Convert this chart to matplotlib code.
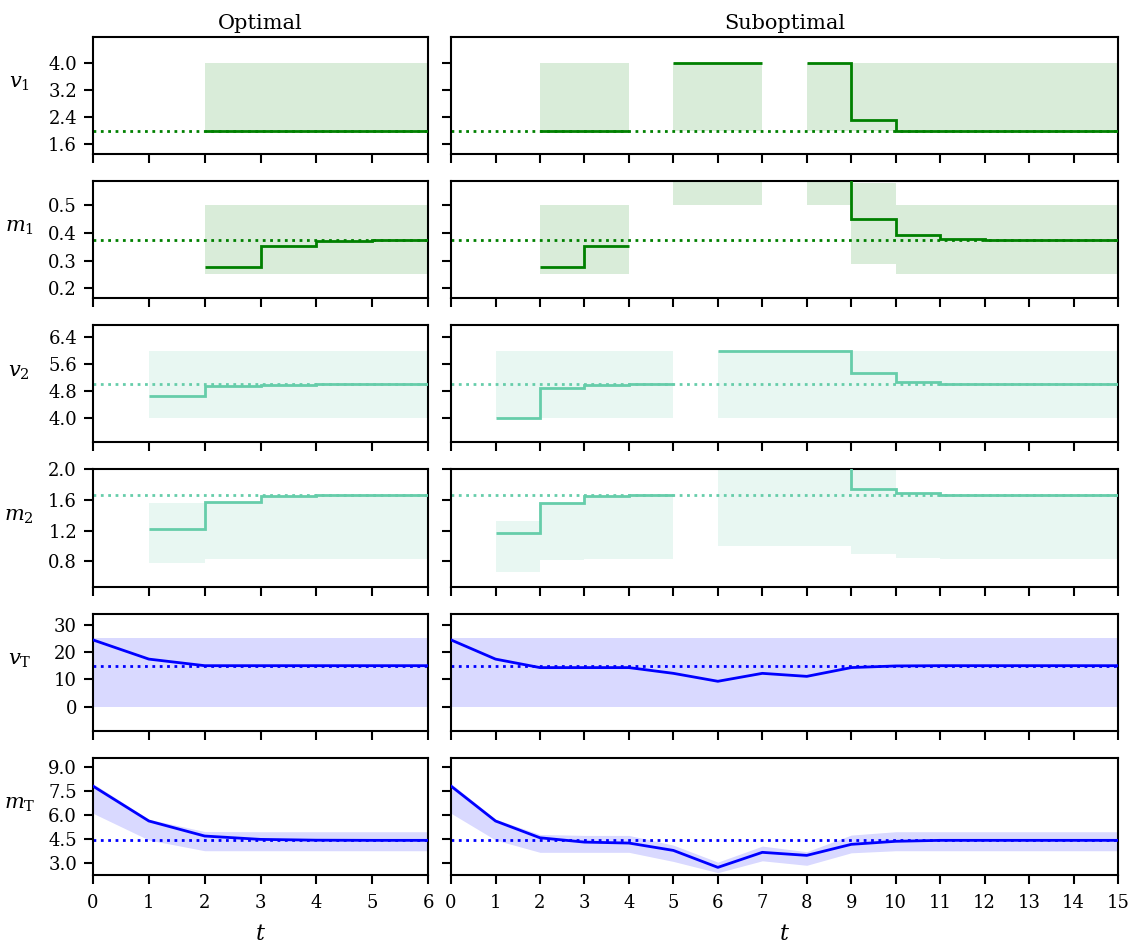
import numpy as np
import matplotlib
matplotlib.use("Agg")
import matplotlib.pyplot as plt

nan = np.nan

# estimates per interval [t, t+1); lo/hi = bounds of the shaded set
# optimal run, t = 0..6
v1_est_opt = [nan, nan, 2.0, 2.0, 2.0, 2.0]
v1_lo_opt = [nan, nan, 2.0, 2.0, 2.0, 2.0]
v1_hi_opt = [nan, nan, 4.0, 4.0, 4.0, 4.0]
m1_est_opt = [nan, nan, 0.278, 0.353, 0.370, 0.374]
m1_lo_opt = [nan, nan, 0.25, 0.25, 0.25, 0.25]
m1_hi_opt = [nan, nan, 0.5, 0.5, 0.5, 0.5]
v2_est_opt = [nan, 4.66, 4.96, 4.99, 5.0, 5.0]
v2_lo_opt = [nan, 4.0, 4.0, 4.0, 4.0, 4.0]
v2_hi_opt = [nan, 6.0, 6.0, 6.0, 6.0, 6.0]
m2_est_opt = [nan, 1.223, 1.576, 1.647, 1.665, 1.667]
m2_lo_opt = [nan, 0.778, 0.823, 0.826, 0.826, 0.826]
m2_hi_opt = [nan, 1.555, 1.576, 1.647, 1.665, 1.667]
# tank states at t = 0..6
vT_opt = [24.4, 17.4, 15.0, 15.0, 15.0, 15.0, 15.0]
vT_lo_opt = [0, 0, 0, 0, 0, 0, 0]
vT_hi_opt = [25, 25, 25, 25, 25, 25, 25]
mT_opt = [7.79, 5.61, 4.67, 4.46, 4.41, 4.40, 4.40]
mT_lo_opt = [6.09, 4.42, 3.75, 3.75, 3.75, 3.75, 3.75]
mT_hi_opt = [7.95, 5.72, 4.95, 4.94, 4.94, 4.94, 4.94]

# suboptimal run, t = 0..15
v1_est_sub = [nan, nan, 2.0, 2.0, nan, 4.0, 4.0, nan, 4.0, 2.33, 2.0, 2.0, 2.0, 2.0, 2.0]
v1_lo_sub = [nan, nan, 2.0, 2.0, nan, 2.0, 2.0, nan, 2.0, 2.0, 2.0, 2.0, 2.0, 2.0, 2.0]
v1_hi_sub = [nan, nan, 4.0, 4.0, nan, 4.0, 4.0, nan, 4.0, 4.0, 4.0, 4.0, 4.0, 4.0, 4.0]
m1_est_sub = [nan, nan, 0.277, 0.353, nan, 0.75, 0.75, nan, 0.75, 0.449, 0.393, 0.379, 0.376, 0.375, 0.375]
m1_lo_sub = [nan, nan, 0.25, 0.25, nan, 0.5, 0.5, nan, 0.5, 0.289, 0.25, 0.25, 0.25, 0.25, 0.25]
m1_hi_sub = [nan, nan, 0.5, 0.5, nan, 1.0, 1.0, nan, 1.0, 0.58, 0.5, 0.5, 0.5, 0.5, 0.5]
v2_est_sub = [nan, 4.0, 4.9, 4.98, 5.0, nan, 6.0, 6.0, 6.0, 5.33, 5.08, 5.02, 5.0, 5.0, 5.0]
v2_lo_sub = [nan, 4.0, 4.0, 4.0, 4.0, nan, 4.0, 4.0, 4.0, 4.0, 4.0, 4.0, 4.0, 4.0, 4.0]
v2_hi_sub = [nan, 6.0, 6.0, 6.0, 6.0, nan, 6.0, 6.0, 6.0, 6.0, 6.0, 6.0, 6.0, 6.0, 6.0]
m2_est_sub = [nan, 1.17, 1.559, 1.647, 1.66, nan, 2.5, 2.5, 2.5, 1.742, 1.694, 1.67, 1.667, 1.667, 1.667]
m2_lo_sub = [nan, 0.66, 0.81, 0.83, 0.83, nan, 1.0, 1.0, 1.0, 0.887, 0.843, 0.83, 0.83, 0.83, 0.83]
m2_hi_sub = [nan, 1.327, 1.559, 1.647, 1.66, nan, 3.0, 3.0, 3.0, 3.0, 1.694, 1.67, 1.667, 1.667, 1.667]
vT_sub = [24.4, 17.4, 14.3, 14.3, 14.3, 12.2, 9.3, 12.2, 11.1, 14.3, 14.9, 15.0, 15.0, 15.0, 15.0, 15.0]
vT_lo_sub = [0] * 16
vT_hi_sub = [25] * 16
mT_sub = [7.79, 5.61, 4.56, 4.29, 4.23, 3.77, 2.71, 3.65, 3.46, 4.15, 4.34, 4.40, 4.40, 4.40, 4.40, 4.40]
mT_lo_sub = [6.09, 4.42, 3.65, 3.65, 3.65, 3.08, 2.38, 3.12, 2.84, 3.62, 3.75, 3.75, 3.75, 3.75, 3.75, 3.75]
mT_hi_sub = [7.95, 5.72, 4.77, 4.71, 4.71, 4.10, 3.04, 4.04, 3.69, 4.73, 4.94, 4.94, 4.94, 4.94, 4.94, 4.94]

true_vals = [2.0, 0.375, 5.0, 1.667, 15.0, 4.4]
row_labels = [r"$v_1$", r"$m_1$", r"$v_2$", r"$m_2$", r"$v_\mathrm{T}$", r"$m_\mathrm{T}$"]
row_colors = ["#008000", "#008000", "#66cdaa", "#66cdaa", "#0000ff", "#0000ff"]
row_yticks = [[1.6, 2.4, 3.2, 4.0], [0.2, 0.3, 0.4, 0.5], [4.0, 4.8, 5.6, 6.4],
              [0.8, 1.2, 1.6, 2.0], [0, 10, 20, 30], [3.0, 4.5, 6.0, 7.5, 9.0]]
row_ylims = [(1.31, 4.77), (0.164, 0.587), (3.27, 6.76), (0.464, 2.0), (-8.8, 34), (2.23, 9.56)]
row_fmt = ["%.1f", "%.1f", "%.1f", "%.1f", "%d", "%.1f"]

opt = [(v1_est_opt, v1_lo_opt, v1_hi_opt), (m1_est_opt, m1_lo_opt, m1_hi_opt),
       (v2_est_opt, v2_lo_opt, v2_hi_opt), (m2_est_opt, m2_lo_opt, m2_hi_opt),
       (vT_opt, vT_lo_opt, vT_hi_opt), (mT_opt, mT_lo_opt, mT_hi_opt)]
sub = [(v1_est_sub, v1_lo_sub, v1_hi_sub), (m1_est_sub, m1_lo_sub, m1_hi_sub),
       (v2_est_sub, v2_lo_sub, v2_hi_sub), (m2_est_sub, m2_lo_sub, m2_hi_sub),
       (vT_sub, vT_lo_sub, vT_hi_sub), (mT_sub, mT_lo_sub, mT_hi_sub)]

plt.rcParams["font.family"] = "DejaVu Serif"
plt.rcParams["mathtext.fontset"] = "dejavuserif"
plt.rcParams["axes.linewidth"] = 1.5

fig = plt.figure(figsize=(11.33, 9.46), dpi=100)
gs = fig.add_gridspec(6, 2, width_ratios=[335, 667], left=0.0821, right=0.9868,
                      top=0.961, bottom=0.075, wspace=0.046, hspace=0.23)

for col, (runs, T) in enumerate([(opt, 6), (sub, 15)]):
    for row in range(6):
        ax = fig.add_subplot(gs[row, col])
        c = row_colors[row]
        est, lo, hi = [np.array(a, dtype=float) for a in runs[row]]
        ax.axhline(true_vals[row], color=c, ls=":", lw=2, zorder=1)
        if row < 4:
            edges = np.arange(T + 1)
            ax.stairs(hi, edges, baseline=lo, fill=True, color=c, alpha=0.15, lw=0)
            ax.stairs(est, edges, baseline=None, color=c, lw=2, zorder=3)
        else:
            t = np.arange(T + 1)
            ax.fill_between(t, lo, hi, color=c, alpha=0.15, lw=0)
            ax.plot(t, est, color=c, lw=2, zorder=3)
        ax.set_xlim(0, T)
        ax.set_xticks(range(T + 1))
        ax.set_ylim(*row_ylims[row])
        ax.set_yticks(row_yticks[row])
        ax.tick_params(direction="out", length=6.5, width=1.5, labelsize=13)
        ax.tick_params(axis="x", pad=7)
        ax.tick_params(axis="y", pad=5)
        if col == 0:
            ax.set_yticklabels([row_fmt[row] % v for v in row_yticks[row]])
            ax.set_ylabel(row_labels[row], rotation=0, fontsize=15, va="center", ha="center")
            ax.yaxis.set_label_coords(-0.22, 0.6)
        else:
            ax.set_yticklabels([])
        if row < 5:
            ax.set_xticklabels([])
        else:
            ax.set_xlabel(r"$t$", fontsize=16, labelpad=8)
        if row == 0:
            ax.set_title(["Optimal", "Suboptimal"][col], fontsize=15, pad=6)

fig.savefig("out.png", dpi=100)
